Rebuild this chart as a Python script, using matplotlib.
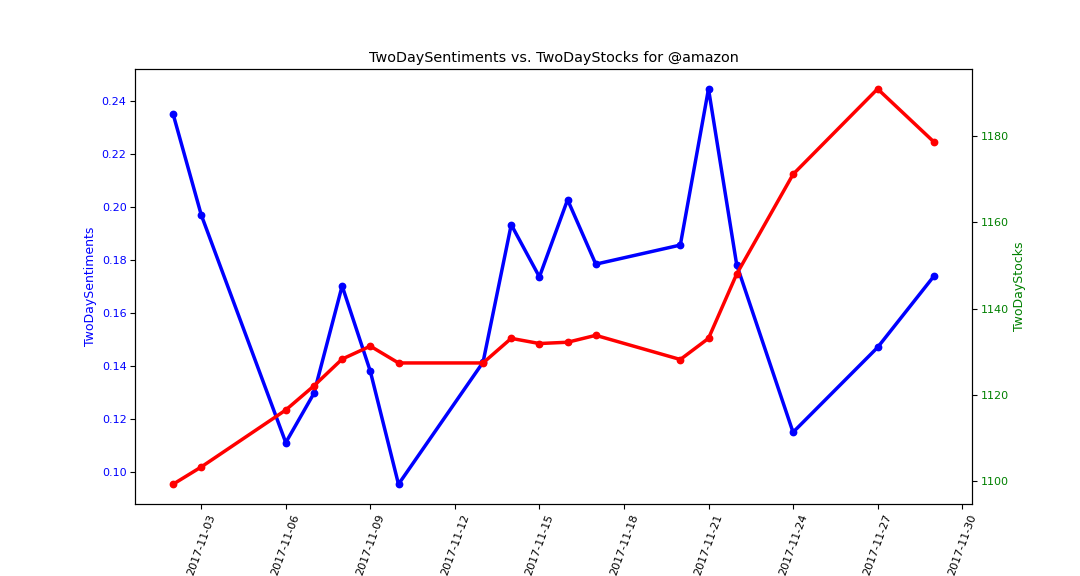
import matplotlib
matplotlib.use("Agg")
import matplotlib.pyplot as plt
import matplotlib.dates as mdates
import pandas as pd

dates = ["2017-11-02", "2017-11-03", "2017-11-06", "2017-11-07", "2017-11-08",
         "2017-11-09", "2017-11-10", "2017-11-13", "2017-11-14", "2017-11-15",
         "2017-11-16", "2017-11-17", "2017-11-20", "2017-11-21", "2017-11-22",
         "2017-11-24", "2017-11-27", "2017-11-29"]
sentiments = [0.2352, 0.1971, 0.1112, 0.1298, 0.1703, 0.1381, 0.0955, 0.1415,
              0.1934, 0.1737, 0.2028, 0.1785, 0.1857, 0.2446, 0.1783, 0.1151,
              0.1471, 0.1740]
stocks = [1099.3, 1103.3, 1116.5, 1122.1, 1128.3, 1131.3, 1127.4, 1127.4,
          1133.1, 1131.9, 1132.2, 1133.8, 1128.2, 1133.1, 1148.0, 1171.1,
          1190.9, 1178.6]
tick_days = [3, 6, 9, 12, 15, 18, 21, 24, 27, 30]

x = pd.to_datetime(dates)

plt.rcParams["xtick.major.pad"] = 3.0
plt.rcParams["ytick.major.pad"] = 2.6
plt.rcParams["axes.labelpad"] = 3.4

fig, ax = plt.subplots(figsize=(10.8, 5.76), dpi=100)
fig.subplots_adjust(left=0.125, right=0.9, top=0.88, bottom=0.125)

ax.plot(x, sentiments, color="blue", marker="o", linewidth=2.5, markersize=4.6)
ax.set_ylabel("TwoDaySentiments", color="blue", fontsize=9)
ax.tick_params(axis="y", labelcolor="blue", color="black", labelsize=8)
ax.tick_params(axis="x", labelsize=8)

ax2 = ax.twinx()
ax2.plot(x, stocks, color="red", marker="o", linewidth=2.5, markersize=4.6)
ax2.set_ylabel("TwoDayStocks", color="green", fontsize=9)
ax2.tick_params(axis="y", labelcolor="green", color="black", labelsize=8)

ax.xaxis.set_major_locator(mdates.DayLocator(bymonthday=tick_days))
ax.xaxis.set_major_formatter(mdates.DateFormatter("%Y-%m-%d"))
for lbl in ax.get_xticklabels():
    lbl.set_rotation(70)

ax.set_title("TwoDaySentiments vs. TwoDayStocks for @amazon", fontsize=10.4, pad=4.8)

fig.savefig("out.png", dpi=100)
